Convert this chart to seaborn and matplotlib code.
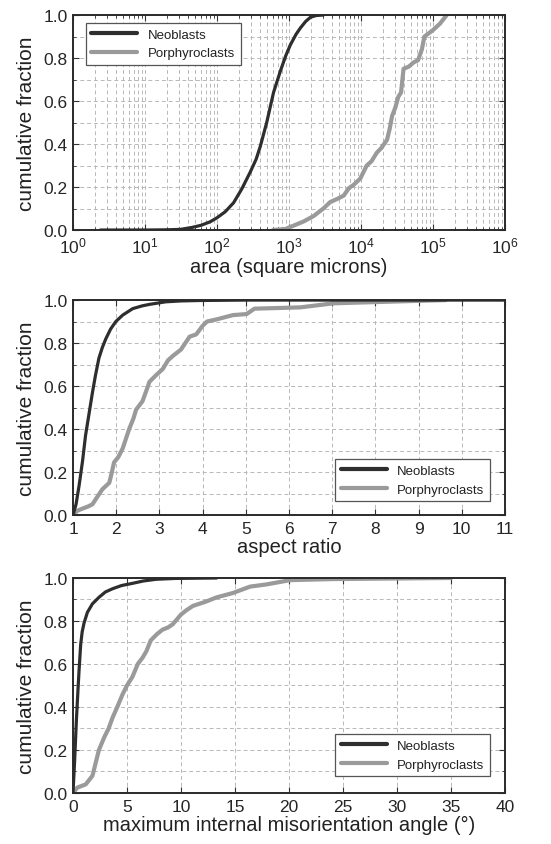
import matplotlib
matplotlib.use("Agg")
import matplotlib.pyplot as plt
import matplotlib.ticker as mticker
import pandas as pd
import seaborn as sns

# cumulative curves
area_neo_x = [2.4, 10, 20, 31, 45, 60, 80, 100, 130, 170, 220, 290, 350, 400, 490, 610, 760,
              900, 1040, 1250, 1440, 1700, 1990, 2400, 3000]
area_neo_y = [0.0, 0.0, 0.001, 0.003, 0.012, 0.022, 0.038, 0.057, 0.085, 0.127, 0.19, 0.27, 0.33,
              0.39, 0.5, 0.64, 0.74, 0.81, 0.86, 0.91, 0.94, 0.97, 0.99, 0.998, 1.0]
area_por_x = [600, 900, 1150, 1600, 2200, 3000, 3730, 4700, 5750, 6800, 7900, 9800, 12000, 14000,
              16600, 19000, 23000, 25000, 27000, 30000, 33000, 36000, 39000, 46000, 54000,
              62000, 70000, 76000, 100000, 125000, 155000]
area_por_y = [0.0, 0.005, 0.02, 0.04, 0.065, 0.1, 0.13, 0.145, 0.16, 0.195, 0.21, 0.24, 0.3, 0.32,
              0.36, 0.38, 0.42, 0.47, 0.53, 0.57, 0.62, 0.64, 0.75, 0.76, 0.78, 0.79, 0.84, 0.9,
              0.93, 0.96, 1.0]

ar_neo_x = [1.0, 1.07, 1.14, 1.22, 1.29, 1.37, 1.45, 1.52, 1.6, 1.68, 1.76, 1.87, 1.99, 2.15,
            2.38, 2.6, 2.77, 3.15, 3.5, 3.93, 5.0, 11.0]
ar_neo_y = [0.0, 0.05, 0.136, 0.25, 0.37, 0.47, 0.57, 0.65, 0.73, 0.78, 0.82, 0.865, 0.9, 0.93,
            0.96, 0.973, 0.98, 0.992, 0.996, 0.998, 1.0, 1.0]
ar_por_x = [1.0, 1.1, 1.22, 1.35, 1.45, 1.58, 1.68, 1.84, 1.9, 1.95, 2.05, 2.15, 2.3, 2.4, 2.46,
            2.61, 2.7, 2.77, 2.92, 3.08, 3.2, 3.31, 3.5, 3.7, 3.85, 4.0, 4.1, 4.32, 4.7, 5.02, 5.2,
            6.26, 7.03, 8.58, 9.63]
ar_por_y = [0.0, 0.02, 0.03, 0.04, 0.05, 0.09, 0.12, 0.15, 0.2, 0.245, 0.27, 0.31, 0.4, 0.45,
            0.49, 0.53, 0.58, 0.62, 0.65, 0.68, 0.72, 0.74, 0.77, 0.83, 0.84, 0.88, 0.9, 0.91,
            0.93, 0.935, 0.96, 0.966, 0.985, 0.994, 1.0]

mis_neo_x = [0.0, 0.15, 0.31, 0.45, 0.56, 0.71, 0.85, 1.02, 1.33, 1.8, 2.4, 3.0, 3.66, 4.5, 5.5,
             6.5, 7.7, 9.5, 13.3]
mis_neo_y = [0.0, 0.15, 0.335, 0.47, 0.57, 0.69, 0.75, 0.79, 0.84, 0.88, 0.91, 0.935, 0.95, 0.965,
             0.975, 0.986, 0.994, 0.998, 1.0]
mis_por_x = [0.0, 0.4, 1.18, 1.8, 2.1, 2.4, 2.9, 3.3, 3.66, 4.1, 4.6, 5.0, 5.5, 6.0, 6.45, 6.8,
             7.2, 7.8, 8.3, 8.8, 9.24, 10.0, 10.5, 11.1, 12.3, 13.3, 14.8, 16.4, 17.9, 20.1,
             24.1, 35.0]
mis_por_y = [0.0, 0.025, 0.04, 0.08, 0.14, 0.2, 0.26, 0.3, 0.35, 0.4, 0.46, 0.5, 0.54, 0.6, 0.63,
             0.66, 0.71, 0.74, 0.76, 0.77, 0.785, 0.83, 0.85, 0.87, 0.89, 0.91, 0.93, 0.96, 0.97,
             0.99, 0.995, 1.0]

sns.set_style("ticks")
plt.rcParams['font.family'] = ['Liberation Sans', 'DejaVu Sans']
plt.rcParams['mathtext.fontset'] = 'custom'
plt.rcParams['mathtext.rm'] = 'Liberation Sans'

neo_col = '#2e2e2e'
por_col = '#9a9a9a'
grid_col = '#b8b8b8'

fig = plt.figure(figsize=(5.51, 8.45), dpi=100)
bottoms = [0.7266, 0.3893, 0.0604]
axes = [fig.add_axes([0.1325, b, 0.784, 0.2544]) for b in bottoms]

panels = [
    (area_neo_x, area_neo_y, area_por_x, area_por_y, 'area (square microns)'),
    (ar_neo_x, ar_neo_y, ar_por_x, ar_por_y, 'aspect ratio'),
    (mis_neo_x, mis_neo_y, mis_por_x, mis_por_y, u'maximum internal misorientation angle (\u00b0)'),
]

for k, (ax, (nx, ny, px, py, xlab)) in enumerate(zip(axes, panels)):
    neo = pd.DataFrame({'x': nx, 'y': ny})
    por = pd.DataFrame({'x': px, 'y': py})
    sns.lineplot(data=neo, x='x', y='y', ax=ax, color=neo_col, lw=2.3,
                 label='Neoblasts', estimator=None, sort=False, zorder=4)
    sns.lineplot(data=por, x='x', y='y', ax=ax, color=por_col, lw=3.0,
                 label='Porphyroclasts', estimator=None, sort=False, zorder=3)

    if k == 0:
        ax.set_xscale('log')
        ax.set_xlim(1, 1e6)
        ax.xaxis.set_major_locator(mticker.LogLocator(base=10, numticks=10))
        ax.xaxis.set_minor_locator(mticker.LogLocator(base=10, subs=range(2, 10), numticks=20))
        ax.xaxis.set_minor_formatter(mticker.NullFormatter())
        ax.grid(True, which='both', axis='x', color=grid_col, ls=(0, (4, 3)), lw=0.7)
    elif k == 1:
        ax.set_xlim(1, 11)
        ax.xaxis.set_major_locator(mticker.MultipleLocator(1))
        ax.grid(True, which='major', axis='x', color=grid_col, ls=(0, (4, 3)), lw=0.7)
    else:
        ax.set_xlim(0, 40)
        ax.xaxis.set_major_locator(mticker.MultipleLocator(5))
        ax.grid(True, which='major', axis='x', color=grid_col, ls=(0, (4, 3)), lw=0.7)

    ax.set_ylim(0, 1)
    ax.yaxis.set_major_locator(mticker.MultipleLocator(0.2))
    ax.yaxis.set_minor_locator(mticker.MultipleLocator(0.1))
    ax.yaxis.set_major_formatter(mticker.FormatStrFormatter('%.1f'))
    ax.grid(True, which='both', axis='y', color=grid_col, ls=(0, (4, 3)), lw=0.7)
    ax.set_axisbelow(True)

    ax.tick_params(which='both', direction='in', top=True, right=True,
                   color='#333333', labelsize=12.5, pad=4)
    ax.tick_params(which='major', length=4, width=0.8)
    ax.tick_params(which='minor', length=2.5, width=0.6)
    for s in ax.spines.values():
        s.set_color('#2a2a2a')
        s.set_linewidth(1.4)
        s.set_zorder(5)

    ax.set_xlabel(xlab, fontsize=14.5, color='#222222', labelpad=1)
    ax.set_ylabel('cumulative fraction', fontsize=15, color='#222222', labelpad=5)

    if k == 0:
        leg = ax.legend(loc='upper left', bbox_to_anchor=(0.03, 0.963), borderaxespad=0,
                        handlelength=3.5, fontsize=9.5)
    elif k == 1:
        leg = ax.legend(loc='lower right', bbox_to_anchor=(0.965, 0.065), borderaxespad=0,
                        handlelength=3.5, fontsize=9.5)
    else:
        leg = ax.legend(loc='lower right', bbox_to_anchor=(0.965, 0.079), borderaxespad=0,
                        handlelength=3.5, fontsize=9.5)
    leg.get_frame().set_edgecolor('#555555')
    leg.get_frame().set_linewidth(0.9)
    leg.get_frame().set_boxstyle('square', pad=0)
    leg.get_frame().set_alpha(1)
    leg.set_zorder(6)
    for t in leg.get_texts():
        t.set_color('#222222')
    for h in leg.get_lines():
        h.set_linewidth(3.0)

fig.savefig('out.png', dpi=100)
